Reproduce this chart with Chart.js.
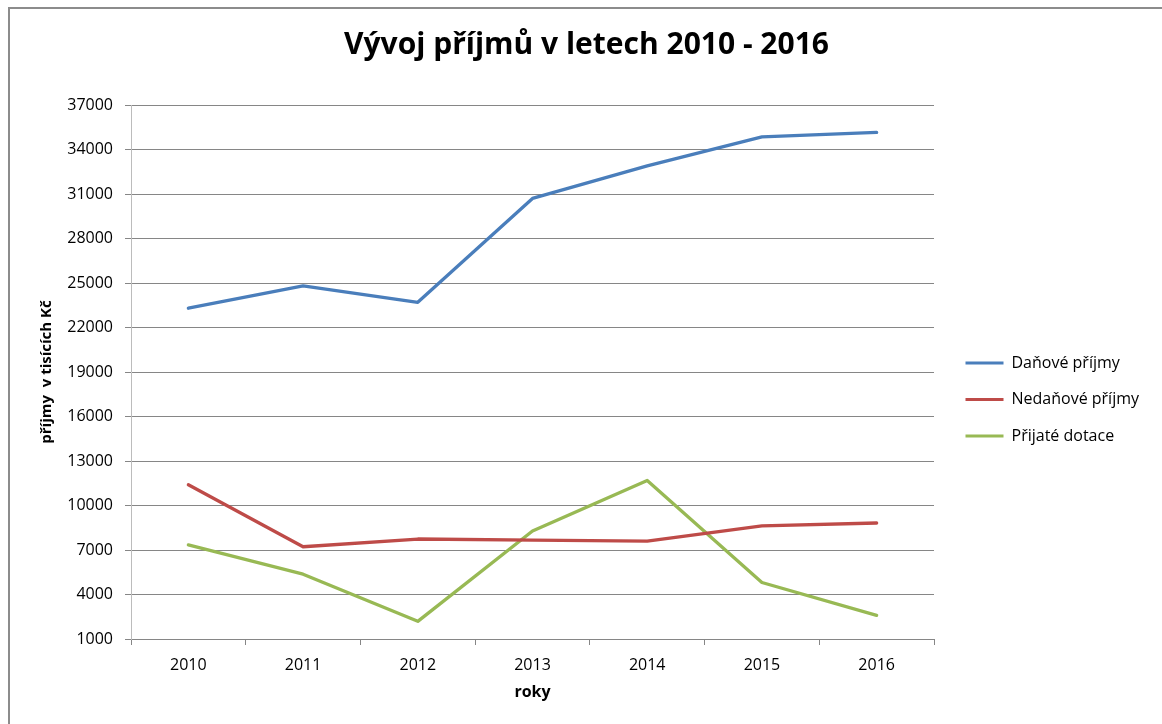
<!DOCTYPE html>
<html>
<head>
<meta charset="utf-8">
<script src="https://cdn.jsdelivr.net/npm/chart.js@4.4.0/dist/chart.umd.min.js"></script>
<style>
    body { margin: 0; background: #fff; }
    #wrap { position: relative; width: 1162px; height: 724px; }
    #frame { position: absolute; left: 8px; top: 7px; width: 1200px; height: 800px; border-left: 2px solid #8c8c8c; border-top: 2px solid #8c8c8c; }
</style>
</head>
<body>
<div id="wrap">
    <div id="frame"></div>
    <canvas id="lineChart" width="1162" height="724"></canvas>
</div>
<script>
// data
var roky = ["2010", "2011", "2012", "2013", "2014", "2015", "2016"];
var danovePrijmy = [23300, 24800, 23700, 30700, 32900, 34850, 35150];
var nedanovePrijmy = [11400, 7220, 7740, 7670, 7600, 8620, 8820];
var prijateDotace = [7340, 5370, 2190, 8280, 11690, 4810, 2590];
var yMin = 1000, yMax = 37000, yStep = 3000;

var font = "'Open Sans', 'Noto Sans', sans-serif";

// keeps the legend at a fixed width so the plot ends where the reference does
var legendWidth = {
    id: "legendWidth",
    beforeInit: function (chart) {
        var fit = chart.legend.fit;
        chart.legend.fit = function () {
            fit.call(this);
            this.width = 217;
        };
    },
};

function serie(label, data, color) {
    return {
        label: label,
        data: data,
        borderColor: color,
        backgroundColor: color,
        pointBorderColor: color,
        pointBackgroundColor: color,
        pointBorderWidth: 3,
    };
}

var ctxLine = document.getElementById("lineChart").getContext("2d");
var lineChart = new Chart(ctxLine, {
    type: "line",
    data: {
        labels: roky,
        datasets: [
            serie("Daňové příjmy", danovePrijmy, "#4a7ebb"),
            serie("Nedaňové příjmy", nedanovePrijmy, "#be4b48"),
            serie("Přijaté dotace", prijateDotace, "#98b954"),
        ],
    },
    options: {
        responsive: false,
        animation: false,
        layout: { padding: { left: 11 } },
        elements: {
            line: { borderWidth: 3.3, tension: 0, borderCapStyle: "round", borderJoinStyle: "round" },
            point: { radius: 0, hoverRadius: 0 },
        },
        plugins: {
            title: {
                display: true,
                text: "Vývoj příjmů v letech 2010 - 2016",
                color: "#000",
                font: { family: font, size: 30, weight: "bold", lineHeight: 1.2 },
                padding: { top: 27, bottom: 42 },
            },
            legend: {
                position: "right",
                title: { display: true, text: " ", font: { size: 10, lineHeight: 1.2 }, padding: { top: 63, bottom: 0 } },
                labels: {
                    usePointStyle: true,
                    pointStyle: "line",
                    pointStyleWidth: 38,
                    padding: 20.5,
                    color: "#000",
                    font: { family: font, size: 16 },
                },
            },
            tooltip: { enabled: false },
        },
        scales: {
            x: {
                offset: true,
                grid: { display: true, drawOnChartArea: false, offset: true, tickLength: 6, color: "#868686" },
                border: { color: "#868686" },
                ticks: { color: "#000", padding: 11, font: { family: font, size: 16 } },
                title: { display: true, text: "roky", color: "#000", font: { family: font, size: 16, weight: "bold" }, padding: { top: 8, bottom: 22 } },
                afterFit: function (scale) { scale.height = 85; },
            },
            y: {
                min: yMin,
                max: yMax,
                ticks: {
                    stepSize: yStep,
                    color: "#000",
                    padding: 12,
                    font: { family: font, size: 16 },
                    callback: function (v) { return String(v); },
                },
                grid: { color: "#868686", tickLength: 6 },
                border: { color: "#bcbcbc" },
                title: { display: true, text: "příjmy  v tisících Kč", color: "#000", font: { family: font, size: 15, weight: "bold" }, padding: { top: 27 } },
                afterFit: function (scale) { scale.width = 120; },
            },
            gap: {
                position: "right",
                grid: { display: false },
                ticks: { display: false },
                border: { display: false },
                afterFit: function (scale) { scale.width = 11; },
            },
        },
    },
    plugins: [legendWidth],
});
</script>
</body>
</html>
